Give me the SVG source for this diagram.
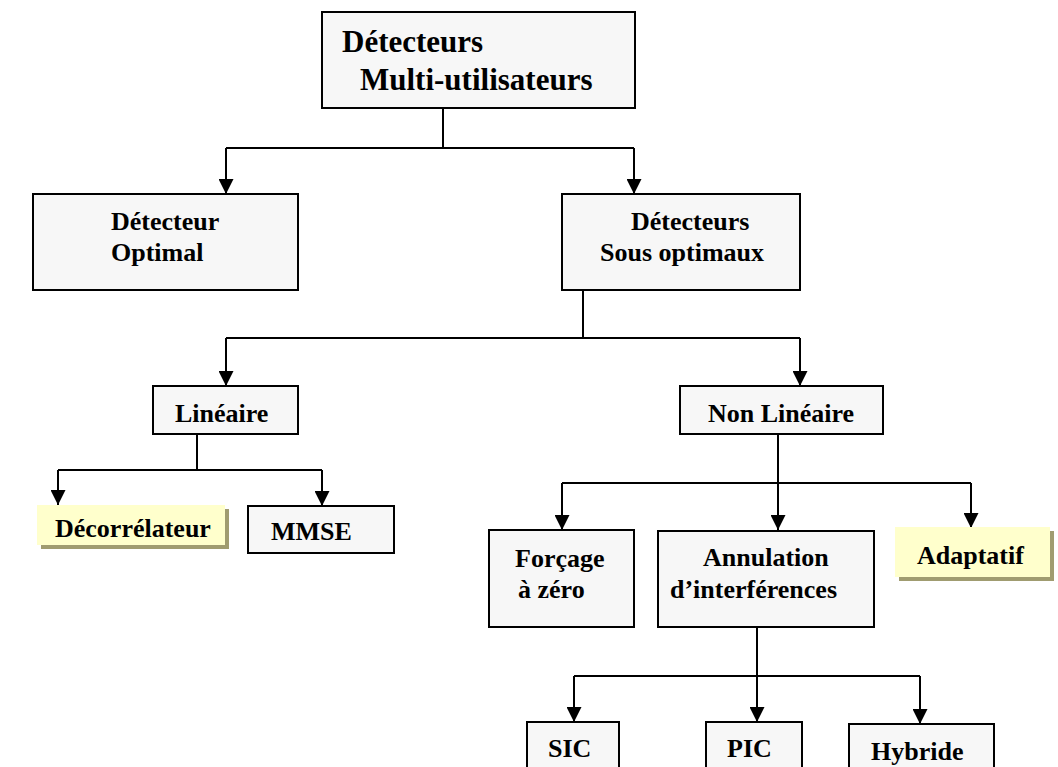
<svg xmlns="http://www.w3.org/2000/svg" width="1058" height="767" viewBox="0 0 1058 767">
<defs>
<marker id="ah" markerUnits="userSpaceOnUse" markerWidth="15" markerHeight="15" refX="15" refY="7.5" orient="auto" viewBox="0 0 15 15">
<path d="M0,0 L15,7.5 L0,15 Z" fill="#000"/>
</marker>
</defs>
<style>
.box{fill:#f7f7f7;stroke:#000;stroke-width:2}
.yb{fill:#ffffcc}
.sh{fill:#a09c70}
.t{font-family:'Liberation Serif','DejaVu Serif',serif;font-weight:bold;font-size:26px;fill:#000}
.big{font-size:31px}
.ln{fill:none;stroke:#000;stroke-width:2}
.arr{fill:none;stroke:#000;stroke-width:2}
</style>
<rect width="1058" height="767" fill="#fff"/>
<g id="connectors">
<polyline class="ln" points="443,108 443,148"/>
<polyline class="ln" points="226,148 634,148"/>
<line class="arr" x1="226" y1="148" x2="226" y2="194" marker-end="url(#ah)"/>
<line class="arr" x1="634" y1="148" x2="634" y2="194" marker-end="url(#ah)"/>
<polyline class="ln" points="583,290 583,338"/>
<polyline class="ln" points="226,338 800,338"/>
<line class="arr" x1="226" y1="338" x2="226" y2="386" marker-end="url(#ah)"/>
<line class="arr" x1="800" y1="338" x2="800" y2="386" marker-end="url(#ah)"/>
<polyline class="ln" points="197,434 197,470"/>
<polyline class="ln" points="58,470 322,470"/>
<line class="arr" x1="58" y1="470" x2="58" y2="505" marker-end="url(#ah)"/>
<line class="arr" x1="322" y1="470" x2="322" y2="506" marker-end="url(#ah)"/>
<polyline class="ln" points="778,434 778,483"/>
<polyline class="ln" points="562,483 971,483"/>
<line class="arr" x1="562" y1="483" x2="562" y2="530" marker-end="url(#ah)"/>
<line class="arr" x1="778" y1="483" x2="778" y2="530" marker-end="url(#ah)"/>
<line class="arr" x1="971" y1="483" x2="971" y2="528" marker-end="url(#ah)"/>
<polyline class="ln" points="757,627 757,676"/>
<polyline class="ln" points="574,676 920,676"/>
<line class="arr" x1="574" y1="676" x2="574" y2="722" marker-end="url(#ah)"/>
<line class="arr" x1="757" y1="676" x2="757" y2="722" marker-end="url(#ah)"/>
<line class="arr" x1="920" y1="676" x2="920" y2="724" marker-end="url(#ah)"/>
</g>
<g id="root">
<rect class="box" x="322" y="12" width="313" height="96"/>
<text class="t big" x="342" y="52">Détecteurs</text>
<text class="t big" x="360" y="90">Multi-utilisateurs</text>
</g>
<g id="optimal">
<rect class="box" x="33" y="194" width="265" height="96"/>
<text class="t" x="111" y="230">Détecteur</text>
<text class="t" x="111" y="261">Optimal</text>
</g>
<g id="sousoptimaux">
<rect class="box" x="562" y="194" width="238" height="96"/>
<text class="t" x="631" y="230">Détecteurs</text>
<text class="t" x="600" y="261">Sous optimaux</text>
</g>
<g id="lineaire">
<rect class="box" x="153" y="386" width="145" height="48"/>
<text class="t" x="175" y="422">Linéaire</text>
</g>
<g id="nonlineaire">
<rect class="box" x="680" y="386" width="203" height="48"/>
<text class="t" x="781" y="422" text-anchor="middle">Non Linéaire</text>
</g>
<g id="decorrelateur">
<rect class="sh" x="41" y="509" width="188" height="40"/>
<rect class="yb" x="37" y="505" width="188" height="40"/>
<text class="t" x="55" y="537">Décorrélateur</text>
</g>
<g id="mmse">
<rect class="box" x="248" y="506" width="146" height="47"/>
<text class="t" x="271" y="540">MMSE</text>
</g>
<g id="forcage">
<rect class="box" x="489" y="530" width="145" height="97"/>
<text class="t" x="515" y="567">Forçage</text>
<text class="t" x="518" y="598">à zéro</text>
</g>
<g id="annulation">
<rect class="box" x="658" y="531" width="216" height="96"/>
<text class="t" x="703" y="566">Annulation</text>
<text class="t" x="670" y="598">d’interférences</text>
</g>
<g id="adaptatif">
<rect class="sh" x="899" y="531" width="155" height="50"/>
<rect class="yb" x="895" y="527" width="155" height="50"/>
<text class="t" x="917" y="564">Adaptatif</text>
</g>
<g id="sic">
<rect class="box" x="527" y="722" width="92" height="60"/>
<text class="t" x="548" y="757">SIC</text>
</g>
<g id="pic">
<rect class="box" x="706" y="722" width="96" height="60"/>
<text class="t" x="727" y="757">PIC</text>
</g>
<g id="hybride">
<rect class="box" x="849" y="724" width="145" height="60"/>
<text class="t" x="871" y="760">Hybride</text>
</g>
</svg>
